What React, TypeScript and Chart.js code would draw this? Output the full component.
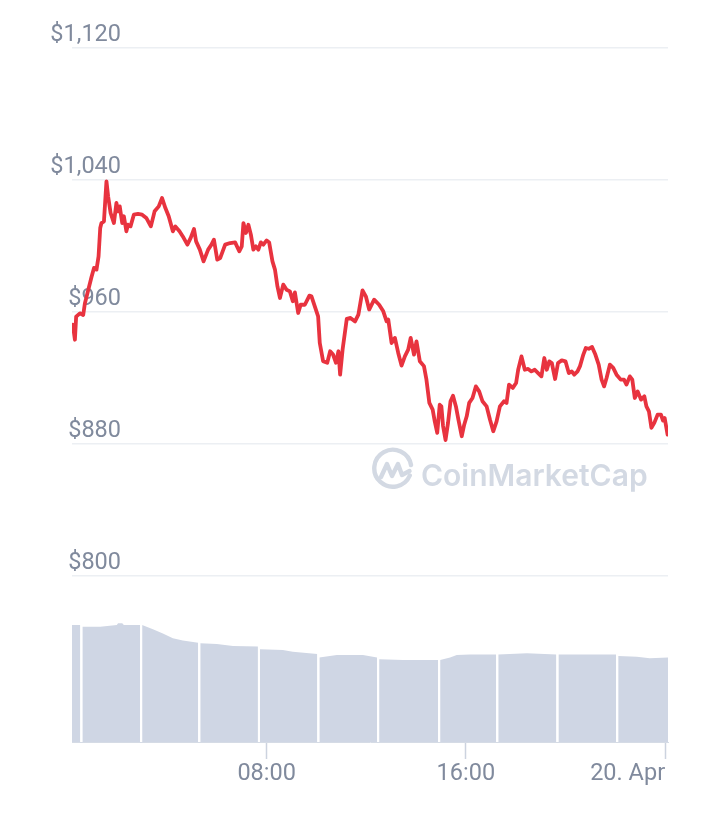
import React, { useEffect, useRef } from 'react';
import { Chart, registerables } from 'chart.js';

Chart.register(...registerables);

// Price series: minutes since 00:00 (19 Apr) and price in USD
const priceMinutes = [
  13, 18, 21, 30, 38, 42, 50, 58, 64, 70, 75, 79, 82, 88, 94, 98, 104, 112, 118, 122,
  126, 132, 136, 142, 146, 152, 160, 170, 180, 190, 201, 210, 220, 228, 236, 244, 254, 260, 270, 278,
  289, 297, 305, 310, 319, 328, 339, 347, 353, 361, 368, 380, 392, 404, 414, 420, 424, 430, 436, 442,
  448, 454, 460, 466, 472, 480, 486, 494, 500, 506, 512, 520, 528, 536, 543, 548, 556, 562, 572, 583,
  588, 596, 604, 608, 616, 626, 633, 640, 647, 653, 657, 663, 673, 682, 693, 701, 711, 719, 727, 739,
  751, 761, 769, 773, 781, 789, 797, 805, 813, 821, 827, 835, 841, 849, 859, 865, 872, 880, 885, 891,
  897, 901, 905, 911, 917, 923, 929, 936, 942, 950, 956, 962, 968, 976, 984, 992, 1000, 1010, 1018, 1026,
  1034, 1042, 1052, 1058, 1064, 1073, 1081, 1086, 1094, 1102, 1110, 1118, 1126, 1134, 1142, 1149, 1155, 1161, 1167, 1175,
  1182, 1191, 1200, 1208, 1215, 1221, 1229, 1235, 1243, 1249, 1256, 1264, 1272, 1280, 1287, 1293, 1299, 1307, 1315, 1323,
  1333, 1341, 1347, 1355, 1361, 1367, 1374, 1382, 1390, 1395, 1401, 1407, 1414, 1422, 1430, 1435, 1439, 1446,
];
const prices = [
  952.1, 943, 957, 959, 958, 965, 973, 981, 986.5, 985.5, 993.5, 1010.7, 1013.7, 1014.7, 1039, 1030, 1019.8, 1013.7, 1025.9, 1020.8,
  1023.8, 1013.7, 1017.8, 1008.7, 1012.7, 1011.7, 1018.8, 1019.2, 1018.8, 1016.8, 1011.7, 1020.8, 1023.8, 1028.9, 1022.8, 1017.8, 1008.7, 1011.7, 1008.7, 1005.6,
  1000.6, 1004.7, 1010.1, 1002.6, 997.6, 990.5, 997.6, 1000.6, 1003.6, 991.5, 992.5, 1000.6, 1001.6, 1002, 996.6, 999.6, 1013.7, 1007.7, 1012.7, 1006.7,
  997.6, 999.6, 997.6, 1002, 1000.6, 1003.2, 1002, 990.5, 985.5, 975.3, 968.3, 976.4, 973.3, 972.3, 966.3, 971.7, 959.2, 964.2, 964.2, 969.7,
  969.3, 963.2, 957.2, 941, 930, 929, 936, 934, 929, 936, 921.8, 937, 955.6, 956.2, 954.1, 958.2, 972.9, 969.3, 961.3, 967.3,
  964.2, 960.2, 954.1, 955.2, 941, 944.1, 935, 927.3, 932.9, 937, 944.1, 934, 942, 930, 927, 918.8, 904.7, 900.6, 893.5, 886.5,
  903.6, 902.6, 890.7, 882.2, 892.6, 905.7, 909.1, 902.6, 894.6, 884.5, 891.5, 896.6, 904.7, 907.7, 914.7, 911.7, 905.7, 902.6, 894.6, 887.5,
  893.5, 902.6, 905.7, 904.7, 915.8, 913.8, 916.8, 924.8, 932.9, 924.8, 925.3, 923.8, 924.8, 922.8, 920.8, 931.9, 924.8, 929.9, 928.9, 919.2,
  928.9, 930.5, 929.9, 922.8, 923.8, 921.8, 923.8, 927, 934, 938, 937.5, 938.6, 934, 927.9, 918.8, 914.7, 919.8, 927.9, 925.9, 921.8,
  918.8, 918.8, 915.8, 920.8, 918.8, 907.7, 911.7, 906.7, 908.7, 902.6, 899.6, 889.6, 892.6, 897.6, 897.6, 894, 895.5, 885.5,
];

// Volume series: minutes since 00:00 and volume (billion USD); null = break between column groups
const volumeMinutes = [
  11, 31, 33, 36, 79, 119, 122, 132, 136, 175, 177, 180, 206, 230, 254, 278, 315, 317, 320, 360,
  399, 459, 461, 464, 519, 543, 602, 604, 607, 649, 712, 746, 748, 751, 809, 893, 895, 898, 922, 938,
  970, 1033, 1035, 1038, 1107, 1178, 1180, 1183, 1322, 1324, 1327, 1372, 1403, 1447,
];
const volumeValues = [
  3.9, 3.9, null, 3.84, 3.84, 3.9, 3.96, 3.96, 3.9, 3.9, null, 3.9, 3.76, 3.62, 3.46, 3.38, 3.31, null, 3.29, 3.27,
  3.2, 3.18, null, 3.09, 3.07, 3.01, 2.93, null, 2.82, 2.9, 2.9, 2.82, null, 2.76, 2.73, 2.73, null, 2.73, 2.82, 2.9,
  2.92, 2.92, null, 2.92, 2.96, 2.92, null, 2.92, 2.92, null, 2.87, 2.84, 2.79, 2.82,
];

const priceTicks = [800, 880, 960, 1040, 1120];
const timeTicks = [480, 960, 1440];
const timeTickLabels = ['08:00', '16:00', '20. Apr'];
const timeMin = 11;
const timeMax = 1447;

const fmtPrice = (v: number) => '$' + Number(v).toLocaleString('en-US');

export default function App() {
  const ref = useRef<HTMLCanvasElement | null>(null);

  useEffect(() => {
    const canvas = ref.current;
    if (!canvas) return;
    const tickFont = { family: 'Roboto', size: 23.5, lineHeight: 1.2 };
    const mctx = document.createElement('canvas').getContext('2d')!;
    mctx.font = '23.5px Roboto';
    const widest = Math.max(...priceTicks.map((v) => mctx.measureText(fmtPrice(v)).width));

    const chart = new Chart(canvas, {
      type: 'line',
      data: {
        datasets: [
          {
            label: 'Price',
            data: priceMinutes.map((m, i) => ({ x: m, y: prices[i] })),
            yAxisID: 'y',
            borderColor: '#e8333f',
            borderWidth: 3.8,
            pointRadius: 0,
            tension: 0,
            fill: false,
            order: 1,
            borderJoinStyle: 'round',
            borderCapStyle: 'round',
          },
          {
            label: 'Volume',
            data: volumeMinutes.map((m, i) => ({ x: m, y: volumeValues[i] })),
            yAxisID: 'yv',
            borderWidth: 0,
            borderColor: 'rgba(0,0,0,0)',
            backgroundColor: '#cfd6e4',
            fill: 'origin',
            pointRadius: 0,
            spanGaps: false,
            tension: 0,
            order: 2,
          },
        ] as any,
      },
      options: {
        animation: false,
        responsive: true,
        maintainAspectRatio: false,
        events: [],
        layout: { padding: { top: 39, left: 64, right: 40, bottom: 17 } },
        plugins: { legend: { display: false }, tooltip: { enabled: false } },
        scales: {
          x: {
            type: 'linear',
            min: timeMin,
            max: timeMax,
            afterBuildTicks: (s: any) => {
              s.ticks = [timeMin, ...timeTicks].map((v) => ({ value: v }));
            },
            afterFit: (s: any) => {
              s.height = 60;
            },
            grid: {
              drawOnChartArea: false,
              drawTicks: true,
              tickLength: 17,
              tickWidth: 1.5,
              tickColor: (c: any) => (c.index === 0 ? 'rgba(0,0,0,0)' : '#ccd3df'),
            },
            border: { display: true, color: '#d5dbe5', width: 1 },
            ticks: {
              autoSkip: false,
              maxRotation: 0,
              minRotation: 0,
              align: 'inner',
              padding: 1.5,
              color: '#808a9d',
              font: tickFont,
              callback: (v: any) => {
                const i = timeTicks.indexOf(Number(v));
                return i >= 0 ? timeTickLabels[i] : '';
              },
            },
          },
          y: {
            position: 'left',
            min: 699.2,
            max: 1120.4,
            afterBuildTicks: (s: any) => {
              s.ticks = priceTicks.map((v) => ({ value: v }));
            },
            afterFit: (s: any) => {
              s.width = 0;
            },
            grid: { color: '#eceff3', lineWidth: 1.5, drawTicks: false },
            border: { display: false },
            ticks: {
              mirror: true,
              crossAlign: 'far',
              padding: 49 - widest,
              labelOffset: -13,
              color: '#808a9d',
              font: tickFont,
              callback: (v: any) => fmtPrice(Number(v)),
            },
          },
          yv: {
            position: 'left',
            display: false,
            min: 0,
            max: 23.17,
          },
        },
      } as any,
    });
    return () => chart.destroy();
  }, []);

  return (
    <div style={{ position: 'relative', width: 700, height: 811 }}>
      <canvas ref={ref} style={{ display: 'block' }} />
      <div
        style={{
          position: 'absolute',
          left: 363,
          top: 439,
          width: 44,
          height: 44,
          pointerEvents: 'none',
        }}
      >
        <svg width="44" height="44" viewBox="0 0 44 44">
          <path
            d="M38.8 28.5 A18.5 18.5 0 1 1 40 18"
            fill="none"
            stroke="#d3d9e3"
            strokeWidth="4.4"
            strokeLinecap="round"
          />
          <polyline
            points="10,30 16,17 21,29 27,17 31,28 38.5,24"
            fill="none"
            stroke="#d3d9e3"
            strokeWidth="4.4"
            strokeLinecap="round"
            strokeLinejoin="round"
          />
        </svg>
      </div>
      <div
        style={{
          position: 'absolute',
          left: 413,
          top: 452,
          fontFamily: 'Inter, "Noto Sans", sans-serif',
          fontWeight: 600,
          fontSize: 30,
          lineHeight: '30px',
          color: '#d3d9e3',
          whiteSpace: 'nowrap',
          pointerEvents: 'none',
        }}
      >
        CoinMarketCap
      </div>
    </div>
  );
}
